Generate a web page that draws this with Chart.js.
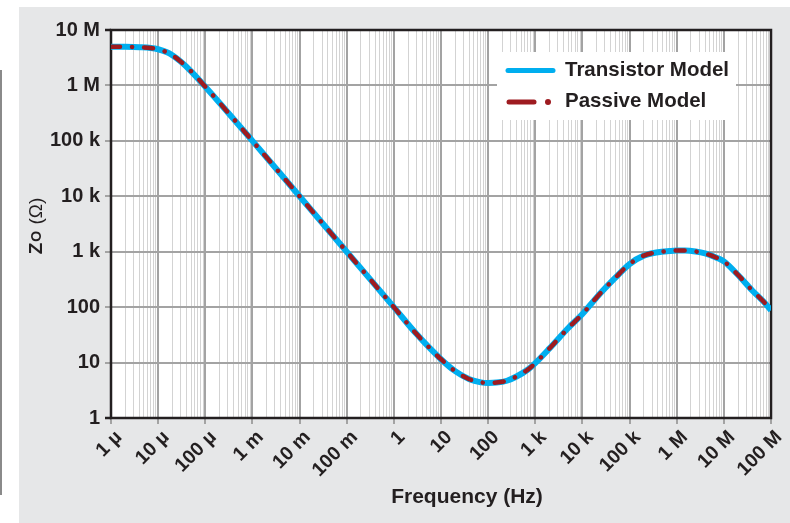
<!DOCTYPE html>
<html>
<head>
<meta charset="utf-8">
<script src="https://cdn.jsdelivr.net/npm/chart.js@4.4.1/dist/chart.umd.min.js"></script>
<style>
  html, body { margin: 0; padding: 0; background: #fff; }
  #wrap { width: 790px; height: 523px; }
</style>
</head>
<body>
<div id="wrap"><canvas id="myChart" width="790" height="523"></canvas></div>
<script>
// Data
const freqHz = [1e-6, 2e-6, 4e-6, 7e-6, 1e-5, 1.5e-5, 2e-5, 3e-5, 5e-5, 1e-4, 1e-3, 1e-2, 1e-1,
  1, 3, 10, 20, 40, 70, 100, 150, 250, 400, 700, 1e3, 2e3, 5e3, 1e4, 2e4, 5e4, 1e5, 2e5, 4e5,
  7e5, 1e6, 1.5e6, 2.5e6, 4e6, 7e6, 1e7, 2e7, 4e7, 7e7, 1e8];
const transistorZ = [5.0e6, 4.98e6, 4.9e6, 4.75e6, 4.5e6, 4.0e6, 3.5e6, 2.7e6, 1.8e6, 9.5e5, 1.0e5, 1.0e4, 1.0e3,
  100, 33, 11.5, 7.0, 5.0, 4.4, 4.3, 4.35, 4.7, 5.6, 7.5, 9.8, 18, 42, 75, 150, 340, 600, 850, 980,
  1030, 1050, 1050, 1010, 930, 780, 670, 380, 200, 125, 88];
const passiveZ = [5.0e6, 4.98e6, 4.9e6, 4.75e6, 4.5e6, 4.0e6, 3.5e6, 2.7e6, 1.8e6, 9.5e5, 1.0e5, 1.0e4, 1.0e3,
  100, 33, 11.5, 7.0, 5.0, 4.4, 4.3, 4.35, 4.7, 5.6, 7.5, 9.8, 18, 42, 75, 150, 340, 600, 850, 980,
  1030, 1050, 1050, 1010, 930, 780, 670, 380, 200, 125, 88];

const xTickValues = [1e-6, 1e-5, 1e-4, 1e-3, 1e-2, 1e-1, 1, 10, 100, 1e3, 1e4, 1e5, 1e6, 1e7, 1e8];
const xTickLabels = ['1 µ', '10 µ', '100 µ', '1 m', '10 m', '100 m', '1', '10', '100', '1 k', '10 k', '100 k', '1 M', '10 M', '100 M'];
const yTickValues = [1, 10, 100, 1e3, 1e4, 1e5, 1e6, 1e7];
const yTickLabels = ['1', '10', '100', '1 k', '10 k', '100 k', '1 M', '10 M'];

const seriesNames = ['Transistor Model', 'Passive Model'];
const blue = '#00aeef';
const red = '#9e1b20';
const ink = '#231f20';
const fontFam = "'Liberation Sans', Arial, sans-serif";

Chart.defaults.font.family = fontFam;
Chart.defaults.font.weight = 'bold';
Chart.defaults.color = ink;

function decadeIndex(v, list) {
    return list.findIndex(d => Math.abs(v / d - 1) < 1e-6);
}

// gridline positions: 1..9 within every decade
const xGridValues = [];
xTickValues.forEach((d, i) => {
    for (let k = 1; k <= 9; k++) {
        if (i === xTickValues.length - 1 && k > 1) break;
        xGridValues.push(d * k);
    }
});

// paint the grey panel and white plot area
const backdrop = {
    id: 'backdrop',
    beforeDraw(chart) {
        const { ctx, chartArea: a } = chart;
        ctx.save();
        ctx.fillStyle = '#fff';
        ctx.fillRect(0, 0, chart.width, chart.height);
        ctx.fillStyle = '#e6e7e8';
        ctx.fillRect(19, 7, chart.width - 19, chart.height - 7);
        ctx.fillStyle = '#8a8a8a';
        ctx.fillRect(0, 70, 2, 425);
        ctx.fillStyle = '#fff';
        ctx.fillRect(a.left, a.top, a.right - a.left, a.bottom - a.top);
        ctx.restore();
    },
    beforeDatasetsDraw(chart) {
        const { ctx, chartArea: a } = chart;
        ctx.save();
        ctx.strokeStyle = ink;
        ctx.lineWidth = 2.5;
        ctx.strokeRect(a.left, a.top, a.right - a.left, a.bottom - a.top);
        ctx.beginPath();
        ctx.moveTo(a.left - 6, a.top);
        ctx.lineTo(a.left, a.top);
        ctx.moveTo(a.left - 6, a.bottom);
        ctx.lineTo(a.left, a.bottom);
        ctx.stroke();
        ctx.restore();
    }
};

// axis titles and the boxed legend
const annotations = {
    id: 'annotations',
    afterDraw(chart) {
        const { ctx } = chart;
        ctx.save();
        ctx.fillStyle = ink;

        // x title
        ctx.font = 'bold 21px ' + fontFam;
        ctx.textAlign = 'center';
        ctx.textBaseline = 'middle';
        ctx.fillText('Frequency (Hz)', 467, 497);

        // y title Z_O (Ω)
        ctx.save();
        ctx.translate(42, 226);
        ctx.rotate(-Math.PI / 2);
        ctx.textAlign = 'left';
        ctx.textBaseline = 'alphabetic';
        const big = 'bold 19px ' + fontFam;
        const small = 'bold 14px ' + fontFam;
        const reg = '19px ' + fontFam;
        ctx.font = big; const wZ = ctx.measureText('Z').width;
        ctx.font = small; const wO = ctx.measureText('O').width;
        ctx.font = reg; const wR = ctx.measureText(' (Ω)').width;
        let x0 = -(wZ + wO + 2 + wR) / 2;
        ctx.font = big; ctx.fillText('Z', x0, 0);
        ctx.font = small; ctx.fillText('O', x0 + wZ + 1, -1);
        ctx.font = reg; ctx.fillText(' (Ω)', x0 + wZ + wO + 2, 0);
        ctx.restore();

        // legend box
        ctx.fillStyle = '#fff';
        ctx.fillRect(497, 52, 239, 68);
        ctx.lineCap = 'round';
        ctx.strokeStyle = blue;
        ctx.lineWidth = 5;
        ctx.beginPath();
        ctx.moveTo(508, 70.5);
        ctx.lineTo(553, 70.5);
        ctx.stroke();
        ctx.strokeStyle = red;
        ctx.beginPath();
        ctx.moveTo(509, 102);
        ctx.lineTo(534, 102);
        ctx.stroke();
        ctx.fillStyle = red;
        ctx.beginPath();
        ctx.arc(548, 102, 3, 0, Math.PI * 2);
        ctx.fill();

        ctx.fillStyle = ink;
        ctx.font = 'bold 20.5px ' + fontFam;
        ctx.textAlign = 'left';
        ctx.textBaseline = 'middle';
        ctx.fillText(seriesNames[0], 565, 70);
        ctx.fillText(seriesNames[1], 565, 101);
        ctx.restore();
    }
};

var ctx = document.getElementById('myChart').getContext('2d');
var myChart = new Chart(ctx, {
    type: 'line',
    data: {
        datasets: [
            {
                label: seriesNames[0],
                data: freqHz.map((f, i) => ({ x: f, y: transistorZ[i] })),
                borderColor: blue,
                borderWidth: 6,
                pointRadius: 0,
                cubicInterpolationMode: 'monotone',
                order: 1,
            },
            {
                label: seriesNames[1],
                data: freqHz.map((f, i) => ({ x: f, y: passiveZ[i] })),
                borderColor: red,
                borderWidth: 4.5,
                borderDash: [9, 12, 0.1, 12],
                borderCapStyle: 'round',
                pointRadius: 0,
                cubicInterpolationMode: 'monotone',
                order: 0,
            },
        ],
    },
    options: {
        responsive: false,
        animation: false,
        devicePixelRatio: 1,
        layout: { padding: { top: 30, right: 19, left: 0, bottom: 0 } },
        plugins: {
            legend: { display: false },
            tooltip: { enabled: false },
        },
        scales: {
            x: {
                type: 'logarithmic',
                min: 1e-6,
                max: 1e8,
                afterBuildTicks: (s) => { s.ticks = xGridValues.map(v => ({ value: v })); },
                afterFit: (s) => { s.height = 105; },
                ticks: {
                    autoSkip: false,
                    minRotation: 45,
                    maxRotation: 45,
                    padding: 2,
                    labelOffset: 8,
                    font: { size: 19.5 },
                    callback: (v) => {
                        const i = decadeIndex(v, xTickValues);
                        return i >= 0 ? xTickLabels[i] : '';
                    },
                },
                grid: {
                    color: (c) => decadeIndex(c.tick.value, xTickValues) >= 0 ? '#a3a3a3' : '#d3d3d3',
                    lineWidth: (c) => decadeIndex(c.tick.value, xTickValues) >= 0 ? 2 : 1,
                    tickColor: (c) => decadeIndex(c.tick.value, xTickValues) >= 0 ? '#a3a3a3' : 'rgba(0,0,0,0)',
                    tickLength: 6,
                },
                border: { display: false },
            },
            y: {
                type: 'logarithmic',
                min: 1,
                max: 1e7,
                afterBuildTicks: (s) => { s.ticks = yTickValues.map(v => ({ value: v })); },
                afterFit: (s) => { s.width = 111; },
                ticks: {
                    padding: 5,
                    font: { size: 20 },
                    callback: (v) => {
                        const i = decadeIndex(v, yTickValues);
                        return i >= 0 ? yTickLabels[i] : '';
                    },
                },
                grid: {
                    color: '#a3a3a3',
                    lineWidth: 2,
                    tickColor: '#a3a3a3',
                    tickLength: 6,
                },
                border: { display: false },
            },
        },
    },
    plugins: [backdrop, annotations],
});
</script>
</body>
</html>
